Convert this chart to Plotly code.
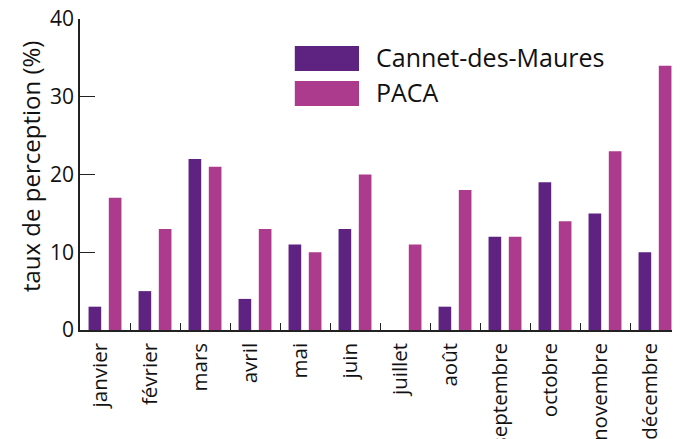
import plotly.graph_objects as go

months = ["janvier", "février", "mars", "avril", "mai", "juin", "juillet",
          "août", "septembre", "octobre", "novembre", "décembre"]
cannet = [3, 5, 22, 4, 11, 13, 0, 3, 12, 19, 15, 10]
paca = [17, 13, 21, 13, 10, 20, 11, 18, 12, 14, 23, 34]
series_names = ["Cannet-des-Maures", "PACA"]
colors = ["#5E2280", "#AD3B8D"]
y_title = "taux de perception (%)"

FONT = "Open Sans"

fig = go.Figure()
fig.add_trace(go.Bar(x=months, y=cannet, name=series_names[0], marker_color=colors[0],
                     marker_line_width=0, showlegend=False))
fig.add_trace(go.Bar(x=months, y=paca, name=series_names[1], marker_color=colors[1],
                     marker_line_width=0, showlegend=False))

# legend drawn as swatches + text
legend_rows = [(0.913, 0.833, 0.877), (0.801, 0.720, 0.764)]
for (y1, y0, yt), c, n in zip(legend_rows, colors, series_names):
    fig.add_shape(type="rect", xref="paper", yref="paper", x0=0.358, x1=0.465,
                  y0=y0, y1=y1, fillcolor=c, line_width=0)
    fig.add_annotation(xref="paper", yref="paper", x=0.49, y=yt, text=n,
                       showarrow=False, xanchor="left", yanchor="middle",
                       font=dict(family=FONT, size=25, color="#111"))

# y-axis title as rotated annotation
fig.add_annotation(xref="paper", yref="paper", x=0, xshift=-50, y=0.524, text=y_title,
                   textangle=-90, showarrow=False, xanchor="center", yanchor="middle",
                   font=dict(family=FONT, size=24, color="#111"))

# page body has an 8px default margin: compensate so the plot lands where the reference's is
fig.update_layout(
    width=672, height=431,
    margin=dict(l=72, r=0, t=11, b=109),
    plot_bgcolor="white", paper_bgcolor="white",
    barmode="group", bargap=0.19, bargroupgap=0.375,
    font=dict(family=FONT, size=19, color="#111"),
)
fig.update_xaxes(
    automargin=False,
    showline=True, linecolor="#222", linewidth=1.5,
    ticks="inside", tickson="boundaries", ticklen=7, tickcolor="#222",
    tickangle=-90, tickfont=dict(size=20.5), showgrid=False, ticklabelstandoff=3,
    ticklabelshift=-5, ticklabeloverflow="allow",
)
fig.update_yaxes(
    automargin=False,
    range=[0, 40], tickvals=[0, 10, 20, 30, 40],
    showline=True, linecolor="#222", linewidth=1.5,
    ticks="inside", ticklen=15, tickcolor="#222", showgrid=False, zeroline=False,
    tickfont=dict(size=21), ticklabeloverflow="allow",
)
fig.write_html("out.html")
